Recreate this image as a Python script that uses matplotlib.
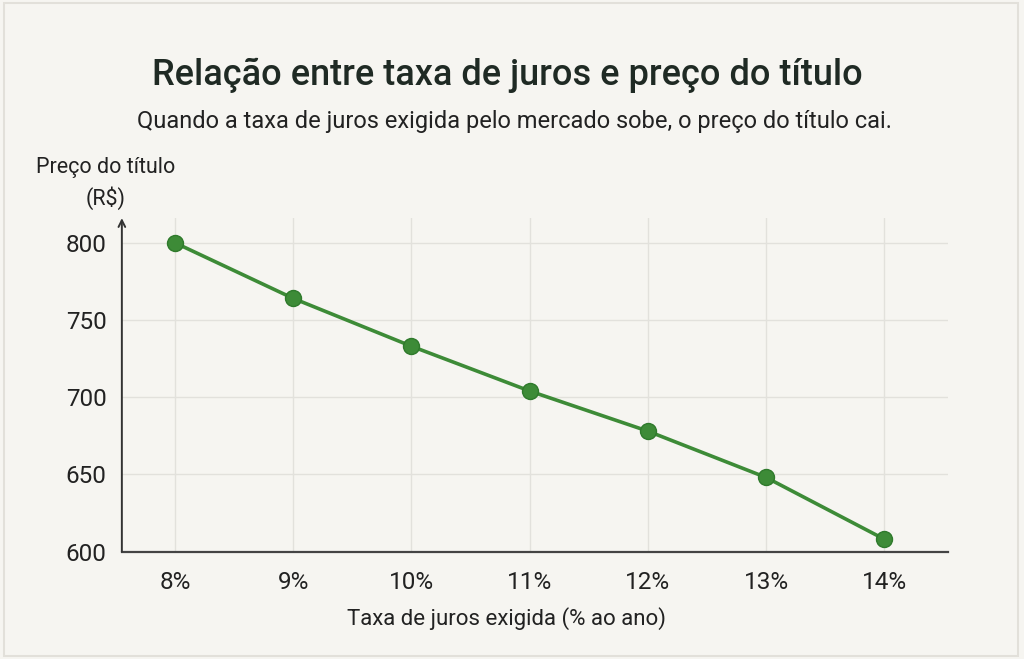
import numpy as np
import matplotlib.pyplot as plt
from matplotlib.patches import Rectangle

plt.rcParams['font.family'] = ['Roboto', 'DejaVu Sans']

taxas = [8, 9, 10, 11, 12, 13, 14]
rotulos_x = ['8%', '9%', '10%', '11%', '12%', '13%', '14%']
precos = [800, 764, 733, 704, 678, 648, 608]
ticks_y = [600, 650, 700, 750, 800]

fundo = '#f6f5f1'
verde = '#3d8b37'

fig = plt.figure(figsize=(10.24, 6.59), dpi=100, facecolor=fundo)
fig.patches.append(Rectangle((0.004, 0.005), 0.99, 0.99, transform=fig.transFigure,
                             fill=False, edgecolor='#e2e0da', linewidth=1.5))

ax = fig.add_axes([0.119, 0.163, 0.807, 0.506])
ax.set_facecolor(fundo)

ax.plot(taxas, precos, color=verde, linewidth=2.6, marker='o', markersize=11.5,
        markerfacecolor=verde, markeredgecolor='#2f7a2c', markeredgewidth=1, zorder=3)

ax.set_xlim(7.55, 14.54)
ax.set_ylim(600, 816)
ax.set_xticks(taxas)
ax.set_xticklabels(rotulos_x)
ax.set_yticks(ticks_y)

ax.grid(True, color='#e2e1dc', linewidth=1)
ax.set_axisbelow(True)

for lado in ['top', 'right', 'left']:
    ax.spines[lado].set_visible(False)
ax.spines['bottom'].set_color('#444444')
ax.spines['bottom'].set_linewidth(1.6)

# eixo y com seta
ax.annotate('', xy=(0, 1.0), xytext=(0, 0), xycoords='axes fraction',
            arrowprops=dict(arrowstyle='->', color='#333333', lw=1.4,
                            shrinkA=0, shrinkB=0, mutation_scale=12))

ax.tick_params(axis='both', length=0, labelsize=17.5, colors='#222222')
ax.tick_params(axis='y', pad=11)
ax.tick_params(axis='x', pad=14)

ax.set_xlabel('Taxa de juros exigida (% ao ano)', fontsize=16, color='#222222')
ax.xaxis.set_label_coords(0.466, -0.165)

fig.text(0.103, 0.721, 'Preço do título\n(R$)', ha='center', va='center',
         fontsize=15.5, color='#222222', linespacing=1.45)

fig.text(0.495, 0.886, 'Relação entre taxa de juros e preço do título', ha='center',
         va='center', fontsize=26, fontweight='medium', color='#1f2a24')
fig.text(0.502, 0.816, 'Quando a taxa de juros exigida pelo mercado sobe, o preço do título cai.',
         ha='center', va='center', fontsize=17, color='#222222')

fig.savefig('out.png', dpi=100, facecolor=fundo)
